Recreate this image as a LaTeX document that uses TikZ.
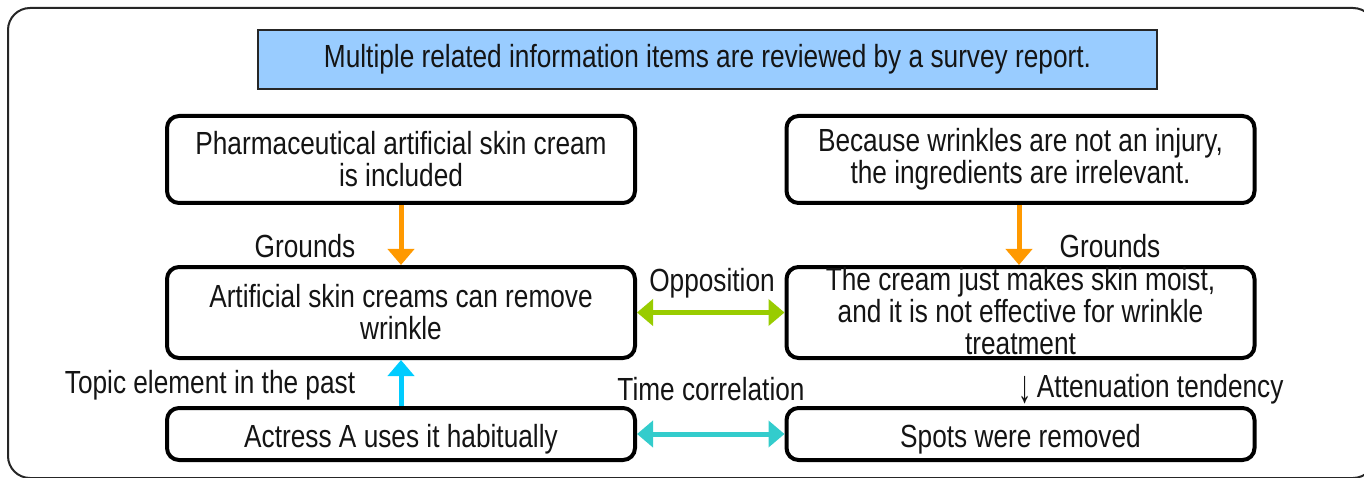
\documentclass[tikz,border=0pt]{standalone}
\usepackage{fontspec}
\setmainfont[FakeStretch=0.82]{Liberation Sans}
\usetikzlibrary{arrows.meta}
\definecolor{titlefill}{HTML}{99CCFF}
\definecolor{groundsarrow}{HTML}{FF9900}
\definecolor{opparrow}{HTML}{99CC00}
\definecolor{pastarrow}{HTML}{00CCFF}
\definecolor{timearrow}{HTML}{33CCCC}
\newcommand*\dgmfont{\fontsize{32pt}{32pt}\selectfont}
\begin{document}
\begin{tikzpicture}[x=1pt,y=-1pt,
  every node/.style={text=black!92, font=\dgmfont},
  frame/.style={draw=black!85, line width=2pt, rounded corners=22pt, inner sep=0pt},
  titlebox/.style={draw=black!85, line width=2pt, fill=titlefill, inner sep=0pt,
    minimum width=899pt, minimum height=59pt},
  claim/.style={draw=black, line width=4pt, rounded corners=12pt, inner sep=0pt,
    minimum width=468pt, align=center},
  oneline/.style={claim, minimum height=52pt, text height=33pt, text depth=7pt},
  txt/.style={align=center, inner sep=0pt},
  lbl/.style={inner sep=0pt},
  tip/.tip={Triangle[length=16pt,width=26pt]},
  link/.style={line width=5pt},
]
\useasboundingbox (0,0) rectangle (1364,478);

% outer frame (runs off the right and bottom edges)
\node[frame, minimum width=1367pt, minimum height=470pt] (frame) at (691.5,243) {};

% heading
\node[titlebox] (title) at (707.5,59.5)
  {Multiple related information items are reviewed by a survey report.};

% claim boxes
\node[claim, minimum height=87pt] (tl) at (401,159.5)
  {Pharmaceutical artificial skin cream\\is included};
\node[claim, minimum height=87pt] (tr) at (1020.5,159.5)
  {Because wrinkles are not an injury,\\the ingredients are irrelevant.};
\node[claim, minimum height=91pt] (ml) at (401,312.5)
  {Artificial skin creams can remove\\wrinkle};
\node[claim, minimum height=91pt] (mr) at (1020.5,312.5) {};
\node[txt] (mrtext) at (1020.5,311)
  {The cream just makes skin moist,\\and it is not effective for wrinkle\\treatment};
\node[oneline] (bl) at (401,434) {Actress A uses it habitually};
\node[oneline] (br) at (1020.5,434) {Spots were removed};

% connectors
\draw[link, groundsarrow, -tip] (tl.south) -- (ml.north);
\draw[link, groundsarrow, -tip] ([xshift=-1.5pt]tr.south) -- ([xshift=-1.5pt]mr.north);
\draw[link, opparrow, tip-tip] (ml.east) -- (mr.west);
\draw[link, pastarrow, -tip] (bl.north) -- (ml.south);
\draw[link, timearrow, tip-tip] (bl.east) -- (br.west);

% connector labels
\node[lbl] (g1) at (305,246) {Grounds};
\node[lbl] (g2) at (1110,246) {Grounds};
\node[lbl] (opp) at (712,283) {Opposition};
\node[lbl] (past) at (210,385) {Topic element in the past};
\node[lbl] (time) at (711,389) {Time correlation};
\node[lbl] (att) at (1151,389)
  {\raisebox{-5pt}{\scalebox{1}[1.45]{↓}}\,Attenuation tendency};
\end{tikzpicture}
\end{document}
